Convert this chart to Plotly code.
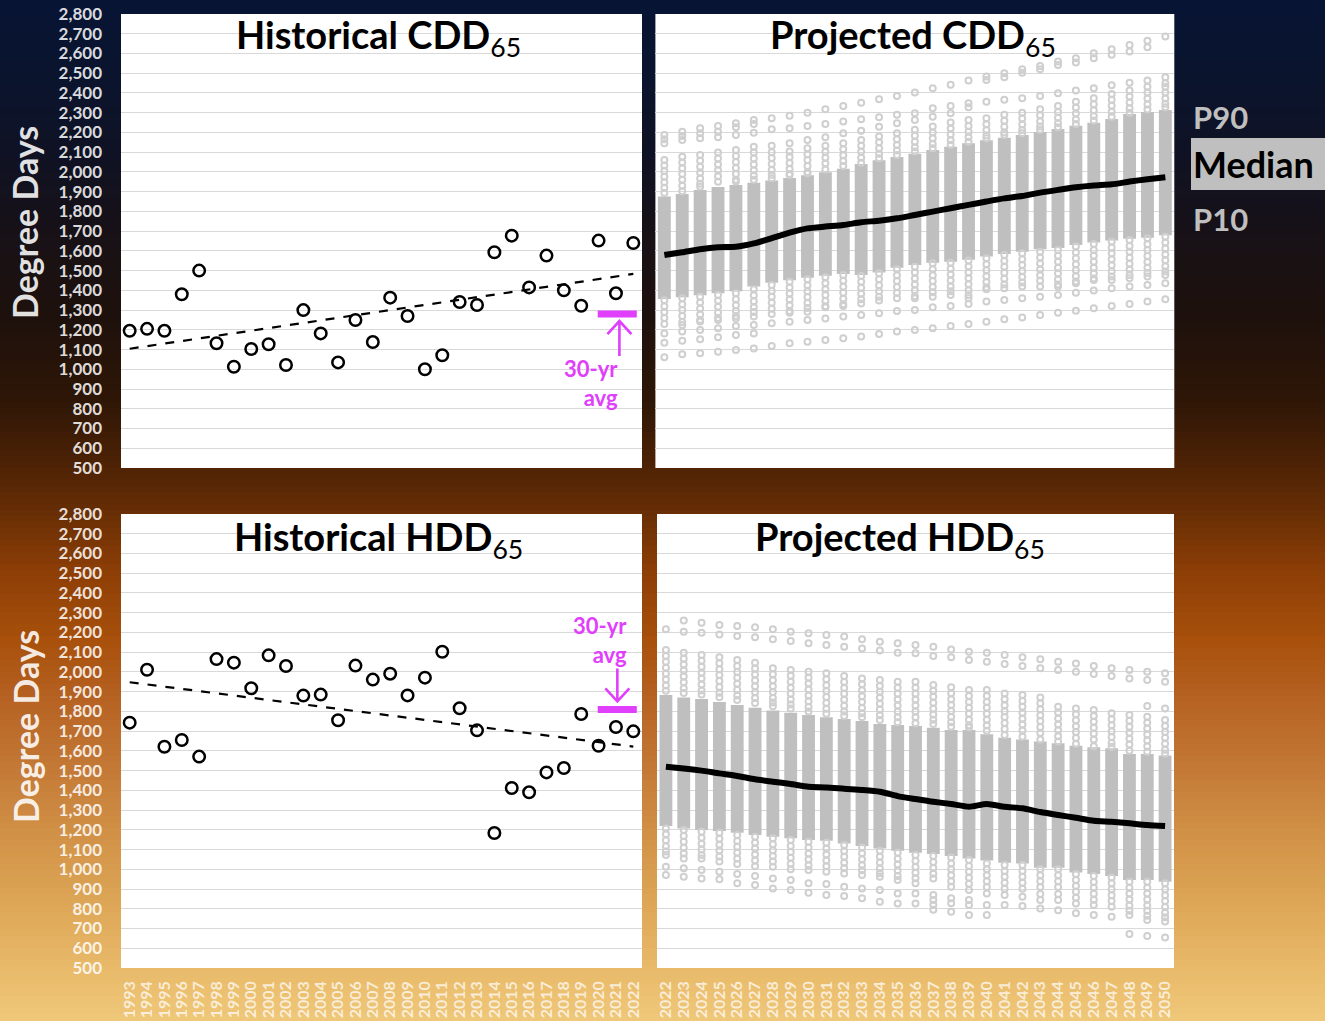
import numpy as np
import plotly.graph_objects as go

W, H = 1325, 1021

# ---------------- data ----------------
hist_years = ["1993", "1994", "1995", "1996", "1997", "1998", "1999", "2000", "2001", "2002",
              "2003", "2004", "2005", "2006", "2007", "2008", "2009", "2010", "2011", "2012",
              "2013", "2014", "2015", "2016", "2017", "2018", "2019", "2020", "2021", "2022"]
proj_years = ["2022", "2023", "2024", "2025", "2026", "2027", "2028", "2029", "2030", "2031",
              "2032", "2033", "2034", "2035", "2036", "2037", "2038", "2039", "2040", "2041",
              "2042", "2043", "2044", "2045", "2046", "2047", "2048", "2049", "2050"]

hist_cdd = [1195, 1205, 1195, 1380, 1500, 1132, 1013, 1103, 1127, 1022,
            1300, 1182, 1035, 1250, 1138, 1363, 1270, 1000, 1071, 1341,
            1326, 1593, 1677, 1415, 1576, 1400, 1322, 1652, 1385, 1640]
hist_hdd = [1743, 2011, 1621, 1655, 1571, 2065, 2047, 1917, 2084, 2030,
            1880, 1885, 1755, 2032, 1961, 1991, 1881, 1971, 2102, 1816,
            1704, 1184, 1412, 1390, 1491, 1513, 1787, 1626, 1721, 1699]
cdd_avg_30yr = 1280
hdd_avg_30yr = 1810

cdd_p90 = [1875, 1888, 1908, 1924, 1934, 1945, 1956, 1969, 1983, 1998, 2016, 2040, 2059, 2076, 2092,
           2111, 2128, 2145, 2160, 2173, 2187, 2202, 2217, 2234, 2249, 2268, 2293, 2304, 2314]
cdd_p10 = [1356, 1365, 1375, 1385, 1395, 1419, 1439, 1451, 1464, 1474, 1483, 1478, 1490, 1515, 1528,
           1540, 1545, 1555, 1571, 1584, 1596, 1608, 1615, 1630, 1643, 1652, 1662, 1667, 1679]
cdd_median = [1579, 1593, 1608, 1618, 1621, 1638, 1664, 1692, 1714, 1723, 1731, 1745, 1753, 1765, 1782,
              1799, 1816, 1833, 1850, 1866, 1878, 1895, 1909, 1922, 1931, 1937, 1951, 1963, 1973]

hdd_p90 = [1883, 1871, 1863, 1847, 1832, 1819, 1804, 1793, 1782, 1770, 1761, 1751, 1736, 1731, 1726,
           1717, 1706, 1706, 1684, 1667, 1658, 1647, 1638, 1626, 1618, 1613, 1584, 1584, 1577]
hdd_p10 = [1219, 1207, 1199, 1194, 1185, 1174, 1165, 1157, 1148, 1145, 1131, 1118, 1106, 1094, 1084,
           1077, 1067, 1055, 1044, 1033, 1030, 1008, 1008, 984, 976, 966, 946, 946, 937]
hdd_median = [1520, 1511, 1500, 1486, 1473, 1456, 1444, 1432, 1418, 1415, 1408, 1402, 1393, 1371, 1356,
              1342, 1331, 1317, 1331, 1317, 1309, 1290, 1275, 1261, 1246, 1241, 1233, 1224, 1219]

# ensemble members falling outside the P10-P90 band, one list per projected year
cdd_members = [
    [2187, 2165, 2145, 2060, 2032, 2004, 1976, 1948, 1920, 1893, 1350, 1320, 1290, 1260, 1230, 1182, 1135, 1061],
    [2204, 2182, 2162, 2077, 2048, 2019, 1990, 1960, 1930, 1902, 1360, 1330, 1300, 1270, 1240, 1225, 1191, 1145, 1076],
    [2221, 2196, 2170, 2086, 2056, 2026, 1996, 1966, 1940, 1925, 1368, 1338, 1308, 1278, 1250, 1242, 1199, 1152, 1081],
    [2233, 2204, 2175, 2098, 2068, 2038, 2008, 1978, 1950, 1377, 1347, 1317, 1287, 1260, 1250, 1208, 1162, 1089],
    [2246, 2226, 2187, 2111, 2080, 2050, 2020, 1990, 1960, 1952, 1385, 1355, 1325, 1295, 1270, 1258, 1220, 1174, 1098],
    [2263, 2243, 2199, 2128, 2098, 2068, 2038, 2008, 1980, 1960, 1405, 1375, 1345, 1315, 1290, 1267, 1225, 1182, 1106],
    [2272, 2216, 2132, 2100, 2070, 2040, 2010, 1985, 1968, 1427, 1397, 1367, 1337, 1307, 1280, 1233, 1118],
    [2284, 2221, 2145, 2103, 2075, 2045, 2015, 1990, 1984, 1444, 1414, 1384, 1354, 1324, 1295, 1287, 1241, 1132],
    [2300, 2233, 2162, 2120, 2090, 2060, 2030, 2000, 1993, 1456, 1426, 1396, 1366, 1336, 1310, 1292, 1250, 1140],
    [2317, 2243, 2175, 2132, 2102, 2072, 2042, 2012, 1466, 1436, 1406, 1376, 1346, 1320, 1314, 1258, 1149],
    [2334, 2255, 2196, 2145, 2115, 2085, 2055, 2030, 1478, 1448, 1418, 1388, 1358, 1330, 1321, 1267, 1157],
    [2351, 2267, 2209, 2162, 2132, 2102, 2072, 2047, 1473, 1443, 1413, 1383, 1355, 1334, 1275, 1166],
    [2368, 2277, 2229, 2179, 2150, 2120, 2092, 2069, 1486, 1456, 1426, 1396, 1368, 1348, 1284, 1179],
    [2385, 2289, 2246, 2196, 2166, 2136, 2108, 2086, 1507, 1477, 1447, 1417, 1387, 1360, 1296, 1191],
    [2402, 2297, 2263, 2213, 2183, 2153, 2125, 2103, 1520, 1490, 1460, 1430, 1400, 1370, 1360, 1301, 1199],
    [2424, 2322, 2280, 2230, 2200, 2170, 2142, 2120, 1537, 1507, 1477, 1447, 1417, 1390, 1368, 1314, 1208],
    [2441, 2334, 2297, 2250, 2220, 2190, 2160, 2137, 1540, 1510, 1480, 1450, 1420, 1395, 1377, 1321, 1220],
    [2463, 2348, 2327, 2263, 2233, 2203, 2175, 2153, 1551, 1521, 1491, 1461, 1431, 1400, 1375, 1360, 1331, 1230],
    [2483, 2466, 2356, 2272, 2242, 2212, 2185, 2170, 1562, 1532, 1502, 1472, 1442, 1415, 1405, 1343, 1241],
    [2500, 2480, 2365, 2289, 2259, 2229, 2200, 2187, 1579, 1549, 1519, 1489, 1459, 1430, 1410, 1351, 1253],
    [2520, 2503, 2373, 2300, 2270, 2240, 2212, 2196, 1588, 1558, 1528, 1498, 1468, 1440, 1419, 1360, 1263],
    [2537, 2520, 2385, 2317, 2287, 2257, 2230, 2213, 1596, 1566, 1536, 1506, 1476, 1448, 1419, 1368, 1275],
    [2559, 2542, 2398, 2334, 2304, 2274, 2246, 2226, 1605, 1575, 1545, 1515, 1485, 1455, 1430, 1419, 1377, 1287],
    [2576, 2554, 2412, 2356, 2326, 2296, 2266, 2243, 1622, 1592, 1562, 1532, 1502, 1472, 1445, 1436, 1388, 1297],
    [2601, 2576, 2424, 2373, 2343, 2313, 2283, 2260, 1635, 1605, 1575, 1545, 1515, 1485, 1460, 1453, 1399, 1309],
    [2621, 2593, 2439, 2395, 2365, 2335, 2305, 2280, 1647, 1617, 1587, 1557, 1527, 1497, 1470, 1453, 1410, 1321],
    [2643, 2610, 2452, 2412, 2382, 2352, 2322, 2300, 1655, 1625, 1595, 1565, 1535, 1505, 1478, 1461, 1419, 1331],
    [2665, 2631, 2463, 2432, 2402, 2372, 2342, 2316, 1664, 1634, 1604, 1574, 1544, 1514, 1488, 1470, 1427, 1343],
    [2686, 2480, 2449, 2432, 2402, 2372, 2345, 2327, 1672, 1642, 1612, 1582, 1552, 1522, 1495, 1478, 1436, 1355],
]
hdd_members = [
    [2216, 2111, 2081, 2051, 2021, 1991, 1961, 1931, 1905, 1207, 1177, 1147, 1117, 1090, 1072, 1013, 971],
    [2260, 2204, 2097, 2067, 2037, 2007, 1977, 1947, 1917, 1893, 1199, 1169, 1139, 1109, 1080, 1055, 1005, 962],
    [2249, 2199, 2086, 2056, 2026, 1996, 1966, 1936, 1906, 1885, 1190, 1160, 1130, 1100, 1072, 1055, 996, 954],
    [2238, 2190, 2074, 2044, 2014, 1984, 1954, 1924, 1895, 1872, 1185, 1155, 1125, 1095, 1065, 1039, 988, 949],
    [2233, 2182, 2060, 2030, 2000, 1970, 1940, 1910, 1880, 1858, 1174, 1144, 1114, 1084, 1055, 1027, 976, 929],
    [2226, 2175, 2047, 2017, 1987, 1957, 1927, 1897, 1868, 1843, 1165, 1135, 1105, 1075, 1045, 1016, 966, 920],
    [2216, 2165, 2018, 1988, 1958, 1928, 1898, 1868, 1845, 1826, 1157, 1127, 1097, 1067, 1040, 1013, 954, 903],
    [2204, 2157, 2010, 1980, 1950, 1920, 1890, 1860, 1835, 1815, 1148, 1118, 1088, 1058, 1028, 1000, 946, 895],
    [2196, 2145, 2001, 1971, 1941, 1911, 1881, 1851, 1822, 1800, 1140, 1110, 1080, 1050, 1020, 996, 929, 881],
    [2187, 2136, 1993, 1963, 1933, 1903, 1873, 1843, 1813, 1788, 1135, 1105, 1075, 1045, 1015, 988, 925, 870],
    [2179, 2128, 1979, 1949, 1919, 1889, 1859, 1829, 1800, 1777, 1123, 1093, 1063, 1033, 1005, 979, 912, 865],
    [2165, 2119, 1967, 1937, 1907, 1877, 1847, 1817, 1790, 1770, 1111, 1081, 1051, 1021, 995, 971, 903, 853],
    [2153, 2108, 1959, 1929, 1899, 1869, 1839, 1809, 1780, 1756, 1094, 1064, 1034, 1004, 980, 962, 895, 836],
    [2145, 2097, 1950, 1920, 1890, 1860, 1830, 1800, 1770, 1745, 1084, 1054, 1024, 994, 966, 946, 878, 827],
    [2136, 2094, 1950, 1920, 1890, 1860, 1830, 1800, 1770, 1740, 1072, 1042, 1012, 982, 955, 929, 878, 827],
    [2128, 2081, 1934, 1904, 1874, 1844, 1814, 1784, 1758, 1736, 1067, 1037, 1007, 977, 954, 870, 845, 820, 795],
    [2114, 2074, 1922, 1892, 1862, 1832, 1802, 1772, 1745, 1722, 1060, 1030, 1000, 970, 940, 912, 853, 828, 785],
    [2102, 2060, 1908, 1878, 1848, 1818, 1788, 1758, 1730, 1719, 1047, 1017, 987, 957, 927, 895, 845, 819, 768],
    [2097, 2052, 1908, 1878, 1848, 1818, 1788, 1758, 1728, 1702, 1030, 1000, 970, 940, 910, 878, 819, 768],
    [2086, 2040, 1891, 1861, 1831, 1801, 1771, 1741, 1711, 1680, 1022, 992, 962, 932, 902, 870, 819],
    [2074, 2030, 1883, 1853, 1823, 1793, 1763, 1733, 1703, 1672, 1022, 992, 962, 932, 902, 861, 814],
    [2064, 2018, 1871, 1841, 1811, 1781, 1751, 1721, 1691, 1658, 1000, 970, 940, 910, 875, 844, 802],
    [2052, 2010, 1824, 1794, 1764, 1734, 1704, 1674, 1647, 1000, 970, 940, 910, 875, 844, 793],
    [2043, 2001, 1815, 1785, 1755, 1725, 1695, 1665, 1635, 976, 946, 916, 886, 856, 827, 777],
    [2030, 1989, 1807, 1777, 1747, 1717, 1687, 1657, 1624, 966, 936, 906, 876, 846, 819, 768],
    [2018, 1979, 1790, 1760, 1730, 1700, 1670, 1640, 1621, 959, 929, 899, 869, 839, 810, 760],
    [2010, 1967, 1782, 1752, 1722, 1692, 1662, 1632, 1600, 937, 907, 877, 847, 817, 790, 768, 672],
    [2001, 1959, 1827, 1773, 1743, 1713, 1683, 1653, 1623, 1596, 937, 907, 877, 847, 817, 790, 765, 743, 662],
    [1993, 1950, 1815, 1756, 1726, 1696, 1666, 1636, 1606, 1587, 929, 899, 869, 839, 809, 780, 757, 735, 655],
]

# ---------------- styling ----------------
FONT = "Lato"
MAGENTA = "#e040fb"
BOX_GRAY = "#bfbfbf"
DOT_GRAY = "#cfcfcf"
GRID = "#d9d9d9"


def px(x):
    return x / W


def py(y):
    return 1 - y / H


fig = go.Figure()


def add_history(xa, ya, values):
    idx = np.arange(len(values))
    slope, icpt = np.polyfit(idx, values, 1)
    fig.add_trace(go.Scatter(
        x=hist_years, y=values, mode="markers",
        marker=dict(symbol="circle-open", size=11.5, color="black", line=dict(width=2.5)),
        xaxis=xa, yaxis=ya, showlegend=False))
    fig.add_trace(go.Scatter(
        x=[hist_years[0], hist_years[-1]], y=[icpt, icpt + slope * idx[-1]],
        mode="lines", line=dict(color="black", width=2.2, dash="dash"),
        xaxis=xa, yaxis=ya, hoverinfo="skip", showlegend=False))


def add_projection(xa, ya, p10, p90, med, members):
    mx, my = [], []
    for yr, vals in zip(proj_years, members):
        for v in vals:
            mx.append(yr)
            my.append(v)
    fig.add_trace(go.Bar(
        x=proj_years, y=[b - a for a, b in zip(p10, p90)], base=p10, width=0.72,
        marker=dict(color=BOX_GRAY, line=dict(width=0)),
        xaxis=xa, yaxis=ya, showlegend=False))
    fig.add_trace(go.Scatter(
        x=mx, y=my, mode="markers",
        marker=dict(symbol="circle-open", size=6, color=DOT_GRAY, line=dict(width=2)),
        xaxis=xa, yaxis=ya, showlegend=False))
    fig.add_trace(go.Scatter(
        x=proj_years, y=med, mode="lines",
        line=dict(color="black", width=6, shape="spline", smoothing=0.6),
        xaxis=xa, yaxis=ya, showlegend=False))


add_history("x", "y", hist_cdd)
add_projection("x2", "y2", cdd_p10, cdd_p90, cdd_median, cdd_members)
add_history("x3", "y3", hist_hdd)
add_projection("x4", "y4", hdd_p10, hdd_p90, hdd_median, hdd_members)

# panel domains (pixels -> paper)
top_y = [py(468), py(14)]
bot_y = [py(968), py(514)]
hist_x = [px(121), px(642)]
proj_top_x = [px(655.4), px(1174.3)]
proj_bot_x = [px(657), px(1174)]

ytick_font = dict(family=FONT, size=17, color="rgba(255,255,255,0.86)", weight="bold")
xtick_font = dict(family=FONT, size=16, color="rgba(255,255,255,0.72)", weight="bold")


def yax(domain, labels, anchor):
    return dict(domain=domain, anchor=anchor, range=[500, 2800], dtick=100, tick0=500,
                tickformat=",d", showgrid=True, gridcolor=GRID, gridwidth=1, zeroline=False,
                showticklabels=labels, tickfont=ytick_font, ticks="", automargin=False,
                ticklabelstandoff=18, fixedrange=True, showline=False)


def xax(domain, anchor, cats, labels):
    return dict(domain=domain, anchor=anchor, type="category", categoryorder="array",
                categoryarray=cats, tickmode="array", tickvals=cats, ticktext=cats,
                range=[-0.5, len(cats) - 0.5], showgrid=False, zeroline=False,
                showticklabels=labels, tickangle=-90, tickfont=xtick_font, ticks="",
                ticklabelstandoff=9, showline=False, automargin=False, fixedrange=True)


fig.update_layout(
    width=W, height=H, margin=dict(l=0, r=0, t=0, b=0, pad=0, autoexpand=False),
    paper_bgcolor="#000000", plot_bgcolor="white", showlegend=False, barmode="overlay",
    font=dict(family=FONT),
    xaxis=xax(hist_x, "y", hist_years, False), yaxis=yax(top_y, True, "x"),
    xaxis2=xax(proj_top_x, "y2", proj_years, False), yaxis2=yax(top_y, False, "x2"),
    xaxis3=xax(hist_x, "y3", hist_years, True), yaxis3=yax(bot_y, True, "x3"),
    xaxis4=xax(proj_bot_x, "y4", proj_years, True), yaxis4=yax(bot_y, False, "x4"),
)

# background gradient: navy at the top, through near-black and rust, to sand at the bottom
stops = [(0, (8, 20, 52)), (80, (10, 20, 45)), (160, (16, 18, 35)), (240, (24, 17, 22)),
         (320, (30, 17, 12)), (400, (46, 22, 6)), (460, (75, 33, 5)), (510, (102, 45, 5)),
         (570, (140, 62, 6)), (640, (168, 80, 12)), (700, (182, 98, 35)), (770, (196, 122, 54)),
         (840, (210, 147, 72)), (910, (222, 168, 88)), (970, (232, 186, 106)), (1021, (240, 200, 122))]
sy = np.array([s[0] for s in stops], dtype=float)
sc = np.array([s[1] for s in stops], dtype=float)
step = 6
shapes = []
for y0 in range(0, H, step):
    yc = y0 + step / 2
    col = [int(round(np.interp(yc, sy, sc[:, k]))) for k in range(3)]
    shapes.append(dict(type="rect", xref="paper", yref="paper", x0=0, x1=1,
                       y0=py(min(y0 + step + 1, H)), y1=py(y0), layer="below",
                       line=dict(width=0), fillcolor=f"rgb({col[0]},{col[1]},{col[2]})"))

# white plotting areas
for k in ("", "2", "3", "4"):
    shapes.append(dict(type="rect", xref=f"x{k} domain", yref=f"y{k} domain", x0=0, x1=1, y0=0, y1=1,
                       fillcolor="white", line=dict(width=0), layer="below"))

# 30-yr average markers and arrows
for xr, yr, avg in (("x", "y", cdd_avg_30yr), ("x3", "y3", hdd_avg_30yr)):
    shapes.append(dict(type="line", xref=xr, yref=yr, x0=26.95, x1=29.2, y0=avg, y1=avg,
                       line=dict(color=MAGENTA, width=7), layer="above"))
shapes.append(dict(type="path", xref="x", yref="y", xsizemode="pixel", ysizemode="pixel",
                   xanchor=28.2, yanchor=cdd_avg_30yr,
                   path="M 0,-42 L 0,-7 M -12,-20 L 0,-7 L 12,-20",
                   line=dict(color=MAGENTA, width=2.6), layer="above"))
shapes.append(dict(type="path", xref="x3", yref="y3", xsizemode="pixel", ysizemode="pixel",
                   xanchor=28.08, yanchor=hdd_avg_30yr,
                   path="M 0,41 L 0,8 M -12,21 L 0,8 L 12,21",
                   line=dict(color=MAGENTA, width=2.6), layer="above"))

# legend swatch behind "Median"
shapes.append(dict(type="rect", xref="paper", yref="paper", x0=px(1191), x1=1, y0=py(190), y1=py(138),
                   fillcolor=BOX_GRAY, line=dict(width=0), layer="above"))

annotations = []


def title(text, xc, ytop):
    annotations.append(dict(text=text, x=px(xc), y=py(ytop), xref="paper", yref="paper",
                            xanchor="center", yanchor="top", showarrow=False,
                            font=dict(family=FONT, size=38, color="black")))


title("<b>Historical CDD</b><sub>65</sub>", 378, 9)
title("<b>Projected CDD</b><sub>65</sub>", 913, 9)
title("<b>Historical HDD</b><sub>65</sub>", 378, 511)
title("<b>Projected HDD</b><sub>65</sub>", 900, 511)

for yc in (223, 727):
    annotations.append(dict(text="<b>Degree Days</b>", x=px(25), y=py(yc), xref="paper", yref="paper",
                            xanchor="center", yanchor="middle", textangle=-90, showarrow=False,
                            font=dict(family=FONT, size=34, color="rgba(255,255,255,0.88)")))

# "30-yr avg" callouts, right-aligned next to the arrows
mag_font = dict(family=FONT, size=22, color=MAGENTA, weight="bold")
annotations += [
    dict(text="30-yr<br>avg", x=28.25, y=py(383), xref="x", yref="paper", xanchor="right",
         yanchor="middle", align="right", showarrow=False, font=mag_font),
    dict(text="30-yr<br>avg", x=28.75, y=py(640), xref="x3", yref="paper", xanchor="right",
         yanchor="middle", align="right", showarrow=False, font=mag_font),
]

legend_items = [("P90", 117, 31, BOX_GRAY), ("Median", 164, 36, "black"), ("P10", 219, 31, BOX_GRAY)]
for txt, yc, size, col in legend_items:
    annotations.append(dict(text=f"<b>{txt}</b>", x=px(1191), y=py(yc), xref="paper", yref="paper",
                            xanchor="left", yanchor="middle", showarrow=False,
                            font=dict(family=FONT, size=size, color=col)))

fig.update_layout(shapes=shapes, annotations=annotations)
fig.write_html("out.html")
